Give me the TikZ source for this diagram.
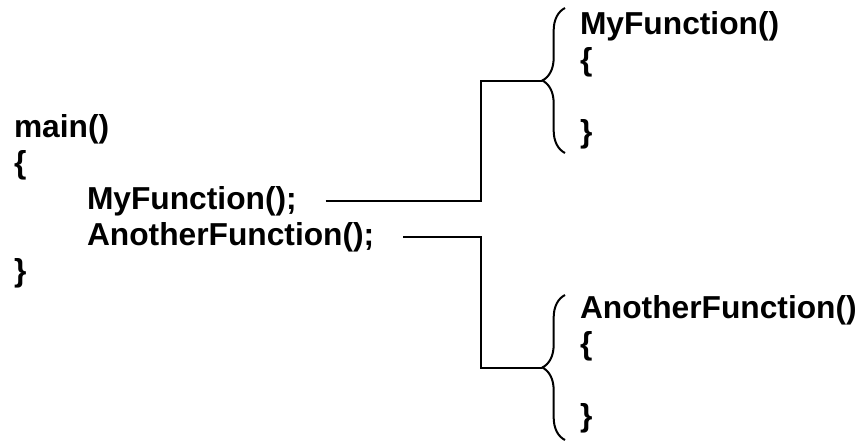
\documentclass[tikz,border=0pt]{standalone}
\usepackage{fontspec}
\setmainfont{Liberation Sans}
\usetikzlibrary{positioning,calc,decorations.pathreplacing}

\begin{document}
\begin{tikzpicture}[x=0.75pt,y=-0.75pt,line width=1.5pt]
\tikzstyle{code}=[anchor=base west,inner sep=0pt,font=\fontsize{23.8}{28}\selectfont\bfseries]
\tikzstyle{link}=[shorten <=21pt]
\tikzstyle{curly}=[decorate,decoration={brace,amplitude=17pt}]
\useasboundingbox (0,0) rectangle (860,444);
% caller
\node[code] (main) at (13,137) {main()};
\node[code] (open) at (13,173) {\{};
\node[code] (call1) at (86,209) {MyFunction();};
\node[code] (call2) at (86,245) {AnotherFunction();};
\node[code] (close) at (13,281) {\}};
% first callee
\node[code] (f1) at (579,34) {MyFunction()};
\node[code] (f1open) at (579,70) {\{};
\node[code] (f1close) at (579,142) {\}};
\draw[curly] (565,153) -- (565,8);
\coordinate (tip1) at (542,80.5);
% second callee
\node[code] (f2) at (579,318) {AnotherFunction()};
\node[code] (f2open) at (579,354) {\{};
\node[code] (f2close) at (579,426) {\}};
\draw[curly] (565,440) -- (565,295);
\coordinate (tip2) at (542,367.5);
% connectors
\coordinate (bend) at (481,0);
\draw[link] (call1.east) -- (call1.east -| bend) |- (tip1);
\draw[link] (call2.east) -- (call2.east -| bend) |- (tip2);
\end{tikzpicture}
\end{document}
